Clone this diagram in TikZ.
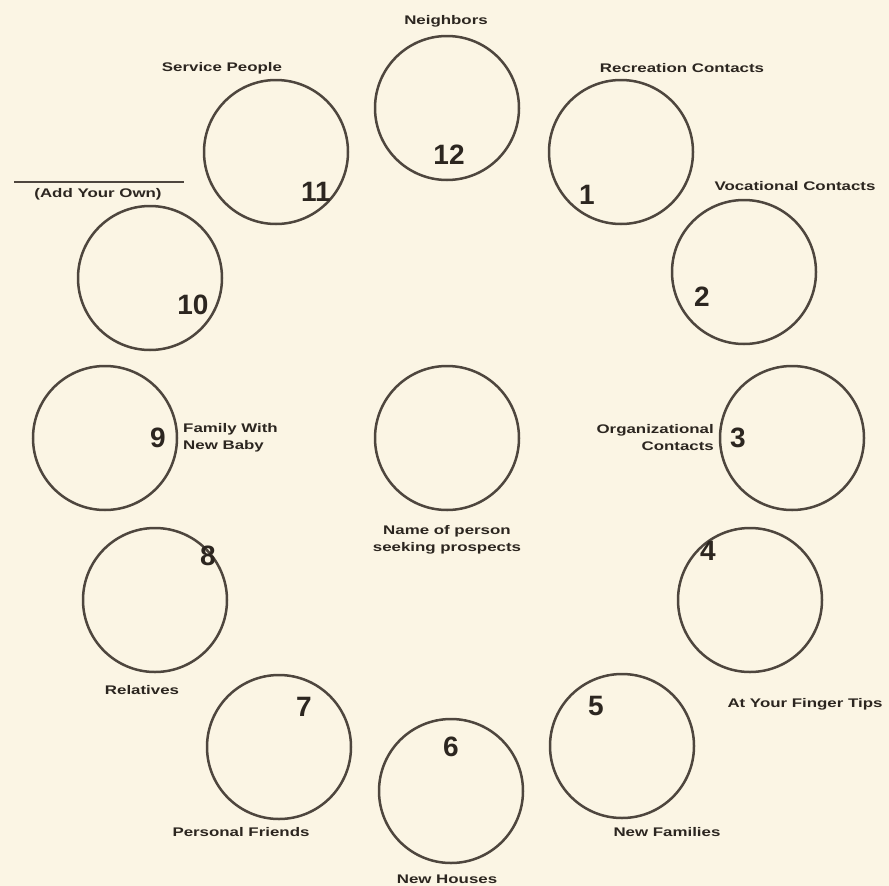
\documentclass[tikz,border=0pt]{standalone}
\usepackage{fontspec}
\setmainfont{Liberation Sans}
\newfontfamily\lblfont[FakeStretch=1.35]{Liberation Sans}
\usetikzlibrary{positioning}
\definecolor{paper}{RGB}{251,245,228}
\definecolor{ink}{RGB}{44,38,32}
\definecolor{rim}{RGB}{78,70,62}
\tikzset{
  ring/.style={circle,draw=rim,line width=2.5pt,minimum size=144pt,inner sep=0pt},
  num/.style={text=ink,font=\bfseries\fontsize{28}{28}\selectfont,inner sep=0pt},
  lbl/.style={text=ink,font=\lblfont\bfseries\fontsize{12.5}{17}\selectfont,inner sep=0pt,align=center}
}
\begin{document}
\begin{tikzpicture}[x=1pt,y=-1pt]
  \fill[paper] (0,0) rectangle (889,886);
  \useasboundingbox (0,0) rectangle (889,886);

  \node[ring] (c12) at (447,108) {};
  \node[ring] (c1)  at (621,152) {};
  \node[ring] (c2)  at (744,272) {};
  \node[ring] (c3)  at (792,438) {};
  \node[ring] (c4)  at (750,600) {};
  \node[ring] (c5)  at (622,746) {};
  \node[ring] (c6)  at (451,791) {};
  \node[ring] (c7)  at (279,747) {};
  \node[ring] (c8)  at (155,600) {};
  \node[ring] (c9)  at (105,438) {};
  \node[ring] (c10) at (150,278) {};
  \node[ring] (c11) at (276,152) {};
  \node[ring] (me)  at (447,438) {};

  \node[num] (n12) at (449,155) {12};
  \node[num] (n1)  at (587,195) {1};
  \node[num] (n2)  at (702,297) {2};
  \node[num] (n3)  at (738,438) {3};
  \node[num] (n4)  at (708,551) {4};
  \node[num] (n5)  at (596,706) {5};
  \node[num] (n6)  at (451,747) {6};
  \node[num] (n7)  at (304,707) {7};
  \node[num] (n8)  at (208,556) {8};
  \node[num] (n9)  at (158,438) {9};
  \node[num] (n10) at (193,305) {10};
  \node[num] (n11) at (316,192) {11};

  \node[lbl] (l12) at (446,21)  {Neighbors};
  \node[lbl] (l1)  at (682,68)  {Recreation Contacts};
  \node[lbl] (l2)  at (795,186) {Vocational Contacts};
  \node[lbl,anchor=east,align=right] (l3) at (714,438) {Organizational\\Contacts};
  \node[lbl] (l4)  at (805,704) {At Your Finger Tips};
  \node[lbl] (l5)  at (667,832) {New Families};
  \node[lbl] (l6)  at (447,879) {New Houses};
  \node[lbl] (l7)  at (241,832) {Personal Friends};
  \node[lbl] (l8)  at (142,690) {Relatives};
  \node[lbl,anchor=west,align=left] (l9) at (183,438) {Family With\\New Baby};
  \node[lbl] (l10) at (98,194)  {(Add Your Own)};
  \node[lbl] (l11) at (222,68)  {Service People};
  \node[lbl] (lme) at (447,540) {Name of person\\seeking prospects};

  \coordinate (blankL) at (14,182);
  \coordinate (blankR) at (184,182);
  \draw[rim,line width=1.6pt] (blankL) -- (blankR);
\end{tikzpicture}
\end{document}
